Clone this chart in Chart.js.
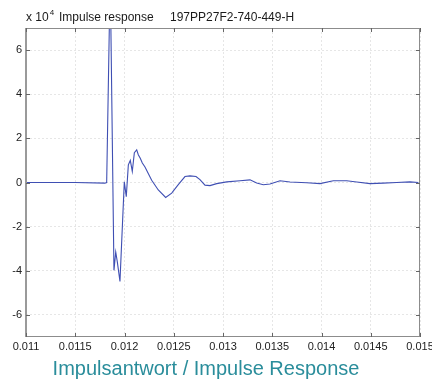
<!DOCTYPE html>
<html>
<head>
<meta charset="utf-8">
<script src="https://cdn.jsdelivr.net/npm/chart.js@4/dist/chart.umd.min.js"></script>
<style>
  html, body { margin: 0; padding: 0; background: #fff; }
  #wrap { position: relative; width: 432px; height: 384px; }
  canvas { display: block; }
</style>
</head>
<body>
<div id="wrap"><canvas id="c" width="432" height="384"></canvas></div>
<script>
// Time (s) and impulse response (x 10^4)
const times = [0.01100, 0.01150, 0.01180, 0.011819, 0.011855, 0.011893, 0.011911, 0.011927, 0.011954,
  0.011998, 0.012018, 0.012039, 0.012059, 0.012079, 0.012100, 0.012124, 0.012140, 0.012160,
  0.012181, 0.012208, 0.012276, 0.012343, 0.012418, 0.012479, 0.012546, 0.012614, 0.012665,
  0.012726, 0.012766, 0.012817, 0.012868, 0.012936, 0.013038, 0.013173, 0.013274, 0.013342,
  0.013409, 0.013477, 0.013579, 0.013680, 0.013850, 0.013985, 0.014120, 0.014256, 0.014358,
  0.014492, 0.014627, 0.014763, 0.014898, 0.014983];
const values = [0, 0, -0.03, 0, 9.4, -3.98, -3.15, -3.6, -4.48,
  0.03, -0.64, 0.8, 1.0, 0.5, 1.35, 1.48, 1.26, 1.1,
  0.88, 0.7, 0.1, -0.34, -0.68, -0.48, -0.1, 0.27, 0.3,
  0.27, 0.13, -0.12, -0.14, -0.05, 0.03, 0.08, 0.12, -0.02,
  -0.1, -0.07, 0.08, 0.02, -0.01, -0.05, 0.08, 0.08, 0.02,
  -0.05, -0.03, 0.0, 0.03, 0.0];
const xTicks = [0.011, 0.0115, 0.012, 0.0125, 0.013, 0.0135, 0.014, 0.0145, 0.015];
const yTicks = [-6, -4, -2, 0, 2, 4, 6];
const titleLeft = 'x 10';
const titleExp = '4';
const titleMain = 'Impulse response';
const titleId = '197PP27F2-740-449-H';
const caption = 'Impulsantwort / Impulse Response';

const points = times.map((t, i) => ({ x: t, y: values[i] }));

const decor = {
  id: 'decor',
  afterDraw(chart) {
    const { ctx, chartArea: a, scales } = chart;
    ctx.save();
    // box
    ctx.strokeStyle = '#8c8c8c';
    ctx.lineWidth = 1;
    ctx.strokeRect(a.left + 0.5, a.top + 0.5, a.right - a.left - 1, a.bottom - a.top - 1);
    ctx.fillStyle = '#9a9a9a';
    ctx.fillRect(a.left - 1, a.top, 2, a.bottom - a.top);
    // inward tick marks
    ctx.strokeStyle = '#666';
    ctx.beginPath();
    xTicks.forEach(v => {
      const px = Math.round(scales.x.getPixelForValue(v)) + 0.5;
      ctx.moveTo(px, a.bottom); ctx.lineTo(px, a.bottom - 4);
      ctx.moveTo(px, a.top); ctx.lineTo(px, a.top + 4);
    });
    yTicks.forEach(v => {
      const py = Math.round(scales.y.getPixelForValue(v)) + 0.5;
      ctx.moveTo(a.left, py); ctx.lineTo(a.left + 4, py);
      ctx.moveTo(a.right, py); ctx.lineTo(a.right - 4, py);
    });
    ctx.stroke();
    // title
    ctx.fillStyle = '#1a1a1a';
    ctx.textBaseline = 'alphabetic';
    ctx.textAlign = 'left';
    ctx.font = '12px "Liberation Sans", Arial, sans-serif';
    ctx.fillText(titleLeft, a.left, 21);
    const w = ctx.measureText(titleLeft).width;
    ctx.font = '8px "Liberation Sans", Arial, sans-serif';
    ctx.fillText(titleExp, a.left + w + 1, 15);
    ctx.font = '12px "Liberation Sans", Arial, sans-serif';
    ctx.fillText(titleMain, 59, 21);
    ctx.fillText(titleId, 170, 21);
    // caption
    ctx.fillStyle = '#2a8d9b';
    ctx.textAlign = 'center';
    ctx.font = '20px "Liberation Sans", Arial, sans-serif';
    ctx.fillText(caption, 206, 375);
    ctx.restore();
  }
};

new Chart(document.getElementById('c'), {
  type: 'line',
  data: {
    datasets: [{
      data: points,
      borderColor: '#3f4fb3',
      borderWidth: 1.1,
      pointRadius: 0,
      tension: 0,
      fill: false
    }]
  },
  options: {
    responsive: false,
    animation: false,
    events: [],
    layout: { autoPadding: false, padding: { top: 28, right: 12, left: 0, bottom: 0 } },
    plugins: { legend: { display: false }, tooltip: { enabled: false }, title: { display: false } },
    scales: {
      x: {
        type: 'linear',
        min: 0.011, max: 0.015,
        afterBuildTicks: s => { s.ticks = xTicks.map(v => ({ value: v })); },
        afterFit: s => { s.height = 47; s.paddingLeft = 0; s.paddingRight = 0; },
        ticks: {
          color: '#222',
          padding: 3,
          maxRotation: 0,
          autoSkip: false,
          font: { family: '"Liberation Sans", Arial, sans-serif', size: 11 },
          callback: v => String(Number(v.toFixed(5)))
        },
        grid: { color: '#e6e6e6', drawTicks: false },
        border: { display: false, dash: [2, 2] }
      },
      y: {
        type: 'linear',
        min: -7, max: 7,
        afterBuildTicks: s => { s.ticks = yTicks.map(v => ({ value: v })); },
        afterFit: s => { s.width = 26; s.paddingTop = 0; s.paddingBottom = 0; },
        ticks: {
          color: '#222',
          padding: 4,
          autoSkip: false,
          font: { family: '"Liberation Sans", Arial, sans-serif', size: 11 },
          callback: v => String(v)
        },
        grid: { color: '#e6e6e6', drawTicks: false },
        border: { display: false, dash: [2, 2] }
      }
    }
  },
  plugins: [decor]
});
</script>
</body>
</html>
